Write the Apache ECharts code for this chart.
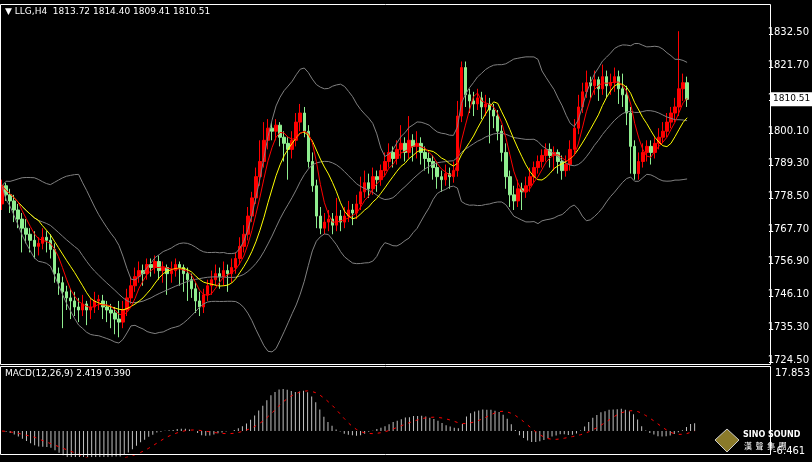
<!DOCTYPE html>
<html><head><meta charset="utf-8">
<script src="https://cdn.jsdelivr.net/npm/echarts@6/dist/echarts.min.js"></script>
<style>html,body{margin:0;padding:0;background:#000}#chart{width:812px;height:462px}</style>
</head><body><div id="chart"></div>
<script>
// [open, close, low, high] per H4 bar
var bars = [
[1776,1782,1774,1784],[1782,1779,1777,1783],[1779,1777,1773,1781],[1777,1774,1770,1779],[1774,1771,1768,1776],
[1771,1768,1760,1773],[1768,1766,1763,1771],[1766,1764,1760,1768],[1764,1762,1758,1767],[1762,1763,1759,1765],
[1763,1765,1761,1768],[1765,1764,1760,1767],[1764,1761,1758,1766],[1761,1753,1750,1763],[1753,1750,1746,1755],
[1750,1747,1735,1752],[1747,1745,1741,1749],[1745,1744,1738,1748],[1744,1742,1739,1747],[1742,1741,1737,1745],
[1741,1743,1739,1746],[1743,1741,1736,1744],[1741,1742,1738,1745],[1742,1744,1740,1747],[1744,1744.5,1741,1746],
[1744,1742,1738,1746],[1742,1741,1737,1744],[1741,1740,1735,1743],[1740,1738,1733,1742],[1738,1737,1732,1744],
[1737,1741,1735,1744],[1741,1745,1739,1748],[1745,1749,1743,1752],[1749,1752,1747,1755],[1752,1754,1750,1757],
[1754,1753,1749,1756],[1753,1756,1751,1758],[1756,1755,1752,1758],[1755,1757,1753,1759],[1757,1754,1751,1759],
[1754,1755,1750,1757],[1755,1753,1746,1756],[1753,1754,1750,1757],[1754,1756,1752,1758],[1756,1755,1749,1757],
[1755,1753,1747,1756],[1753,1751,1744,1755],[1751,1748,1745,1753],[1748,1744,1740,1750],[1744,1742,1739,1747],
[1742,1746,1740,1748],[1746,1749,1744,1751],[1749,1751,1746,1754],[1751,1753,1749,1756],[1753,1752,1748,1755],
[1752,1754,1749,1757],[1754,1753,1747,1756],[1753,1755,1750,1758],[1755,1758,1753,1760],[1758,1762,1756,1765],
[1762,1766,1760,1769],[1766,1772,1764,1775],[1772,1778,1770,1780],[1778,1785,1776,1788],[1785,1790,1782,1797],
[1790,1797,1788,1803],[1797,1801,1794,1804],[1801,1800,1797,1803],[1800,1802,1797,1804],[1802,1798,1795,1803],
[1798,1796,1790,1800],[1796,1794,1784,1798],[1794,1797,1791,1800],[1797,1803,1795,1806],[1803,1806,1800,1809],
[1806,1800,1798,1808],[1800,1790,1788,1802],[1790,1782,1780,1793],[1782,1772,1768,1784],[1772,1768,1766,1775],
[1768,1770,1766,1773],[1770,1771,1767,1774],[1771,1769,1766,1773],[1769,1772,1767,1778],[1772,1770,1767,1774],
[1770,1772,1768,1775],[1772,1774,1770,1777],[1774,1773,1769,1776],[1773,1776,1771,1779],[1776,1780,1774,1785],
[1780,1783,1778,1787],[1783,1781,1778,1786],[1781,1785,1779,1788],[1785,1784,1780,1787],[1784,1787,1782,1789],
[1787,1790,1785,1793],[1790,1793,1788,1796],[1793,1791,1788,1795],[1791,1794,1789,1797],[1794,1796,1791,1802],
[1796,1793,1790,1798],[1793,1797,1791,1805],[1797,1795,1790,1799],[1795,1796,1791,1800],[1796,1793,1789,1798],
[1793,1791,1787,1795],[1791,1790,1786,1793],[1790,1788,1784,1792],[1788,1785,1781,1790],[1785,1784,1780,1787],
[1784,1786,1782,1789],[1786,1785,1781,1788],[1785,1787,1783,1790],[1787,1805,1785,1810],[1805,1821,1803,1823],
[1821,1812,1808,1823],[1812,1810,1806,1814],[1810,1809,1805,1813],[1809,1811,1807,1814],[1811,1808,1804,1813],
[1808,1809,1805,1812],[1809,1807,1796,1811],[1807,1805,1801,1809],[1805,1800,1797,1807],[1800,1793,1790,1802],
[1793,1785,1781,1796],[1785,1779,1775,1787],[1779,1777,1774,1782],[1777,1781,1775,1784],[1781,1780,1774,1783],
[1780,1782,1778,1785],[1782,1785,1780,1788],[1785,1788,1783,1790],[1788,1790,1786,1792],[1790,1792,1788,1794],
[1792,1794,1790,1796],[1794,1792,1788,1796],[1792,1793,1787,1795],[1793,1790,1786,1794],[1790,1787,1784,1792],
[1787,1789,1785,1792],[1789,1794,1787,1797],[1794,1801,1792,1804],[1801,1808,1799,1812],[1808,1813,1806,1816],
[1813,1816,1811,1820],[1816,1815,1811,1818],[1815,1817,1812,1820],[1817,1814,1810,1818],[1814,1818,1812,1822],
[1818,1815,1811,1820],[1815,1816,1812,1819],[1816,1818,1813,1821],[1818,1814,1809,1820],[1814,1812,1808,1819],
[1812,1806,1802,1815],[1806,1795,1786,1808],[1795,1786,1784,1797],[1786,1790,1784,1793],[1790,1793,1788,1796],
[1793,1795,1790,1797],[1795,1793,1789,1797],[1793,1796,1791,1798],[1796,1798,1794,1801],[1798,1800,1796,1803],
[1800,1803,1798,1806],[1803,1806,1801,1808],[1806,1808,1803,1811],[1808,1814,1805,1833],[1814,1816,1810,1819],
[1816,1810.51,1808,1818]
];
var slots = 189;
var lastPrice = 1810.51;
var yMin = 1724.5, yStep = 10.8;

var cats = [];
for (var i = 0; i < slots; i++) cats.push(String(i));
var closes = bars.map(function (b) { return b[1]; });

function sma(arr, n) {
    return arr.map(function (v, i) {
        var s = 0, c = 0;
        for (var j = Math.max(0, i - n + 1); j <= i; j++) { s += arr[j]; c++; }
        return s / c;
    });
}
function ema(arr, n) {
    var k = 2 / (n + 1), out = [], prev = arr[0];
    arr.forEach(function (v) { prev = v * k + prev * (1 - k); out.push(prev); });
    return out;
}
var ma5 = sma(closes, 5), ma10 = sma(closes, 10), mid = sma(closes, 20);
var upper = [], lower = [];
closes.forEach(function (v, i) {
    var s = 0, c = 0;
    for (var j = Math.max(0, i - 19); j <= i; j++) { s += Math.pow(closes[j] - mid[i], 2); c++; }
    var sd = Math.sqrt(s / c);
    upper.push(mid[i] + 2 * sd); lower.push(mid[i] - 2 * sd);
});
var e12 = ema(closes, 12), e26 = ema(closes, 26);
var macd = e12.map(function (v, i) { return v - e26[i]; });
var signal = sma(macd, 9);

function line(data, color, xi, yi, type) {
    return { type: 'line', data: data, xAxisIndex: xi, yAxisIndex: yi, symbol: 'none', silent: true,
        lineStyle: { color: color, width: 1, type: type || 'solid' } };
}

var graphics = [
    { type: 'rect', shape: { x: 0.5, y: 4.5, width: 770, height: 360 }, style: { fill: 'none', stroke: '#fff', lineWidth: 1 }, z: 10 },
    { type: 'rect', shape: { x: 0.5, y: 366.5, width: 770, height: 88 }, style: { fill: 'none', stroke: '#fff', lineWidth: 1 }, z: 10 },
    { type: 'text', left: 5, top: 7, style: { text: '▼ LLG,H4  1813.72 1814.40 1809.41 1810.51', fill: '#fff', fontSize: 9, fontFamily: 'DejaVu Sans' }, z: 11 },
    { type: 'text', left: 5, top: 369, style: { text: 'MACD(12,26,9) 2.419 0.390', fill: '#fff', fontSize: 9, fontFamily: 'DejaVu Sans' }, z: 11 },
    { type: 'text', left: 775, top: 368, style: { text: '17.853', fill: '#fff', fontSize: 10, fontFamily: 'DejaVu Sans' }, z: 11 },
    { type: 'text', left: 773, top: 446, style: { text: '-6.461', fill: '#fff', fontSize: 10, fontFamily: 'DejaVu Sans' }, z: 11 },
    { type: 'text', left: 743, top: 431, style: { text: 'SINO SOUND', fill: '#fff', fontSize: 8, fontWeight: 'bold', fontFamily: 'DejaVu Sans' }, z: 12 },
    { type: 'text', left: 744, top: 442, style: { text: '漢  聲  集  團', fill: '#fff', fontSize: 8, fontFamily: 'Noto Sans CJK TC' }, z: 12 },
    { type: 'polygon', shape: { points: [[727, 429], [739, 440], [727, 452], [715, 440]] }, style: { fill: '#8a7a2a', stroke: '#ccc' }, z: 12 }
];

var chart = echarts.init(document.getElementById('chart'));
chart.setOption({
    backgroundColor: '#000',
    animation: false,
    grid: [
        { left: 0, right: 42, top: 0, bottom: 102 },
        { left: 0, right: 42, top: 367, bottom: 5 }
    ],
    xAxis: [
        { type: 'category', data: cats, gridIndex: 0, show: false },
        { type: 'category', data: cats, gridIndex: 1, show: false }
    ],
    yAxis: [
        { type: 'value', gridIndex: 0, position: 'right', min: yMin, max: yMin + yStep * 11, interval: yStep,
          splitLine: { show: false }, axisLine: { show: false }, axisTick: { show: false },
          axisLabel: { color: '#fff', fontSize: 10, fontFamily: 'DejaVu Sans', margin: 6, showMaxLabel: false,
            formatter: function (v) { return v.toFixed(2); } } },
        { type: 'value', gridIndex: 1, position: 'right', min: -8.0, max: 19.7, show: false }
    ],
    series: [
        line(upper, '#808080', 0, 0), line(mid, '#808080', 0, 0), line(lower, '#808080', 0, 0),
        line(ma10, '#ffff00', 0, 0), line(ma5, '#ff0000', 0, 0),
        { type: 'candlestick', data: bars, xAxisIndex: 0, yAxisIndex: 0, barWidth: 3,
          itemStyle: { color: '#ff0000', color0: '#90ee90', borderColor: '#ff0000', borderColor0: '#90ee90', borderWidth: 1 } },
        { type: 'bar', data: macd, xAxisIndex: 1, yAxisIndex: 1, barWidth: 1, itemStyle: { color: '#c0c0c0' } },
        line(signal, '#ff0000', 1, 1, [3, 5])
    ]
});

// current price tag on the price scale
var py = chart.convertToPixel({ yAxisIndex: 0 }, lastPrice);
graphics.push(
    { type: 'rect', shape: { x: 771, y: py - 7, width: 41, height: 14 }, style: { fill: '#fff' }, z: 20 },
    { type: 'text', left: 773, top: py - 5, style: { text: lastPrice.toFixed(2), fill: '#000', fontSize: 9, fontFamily: 'DejaVu Sans' }, z: 21 }
);
chart.setOption({ graphic: graphics });
</script></body></html>
